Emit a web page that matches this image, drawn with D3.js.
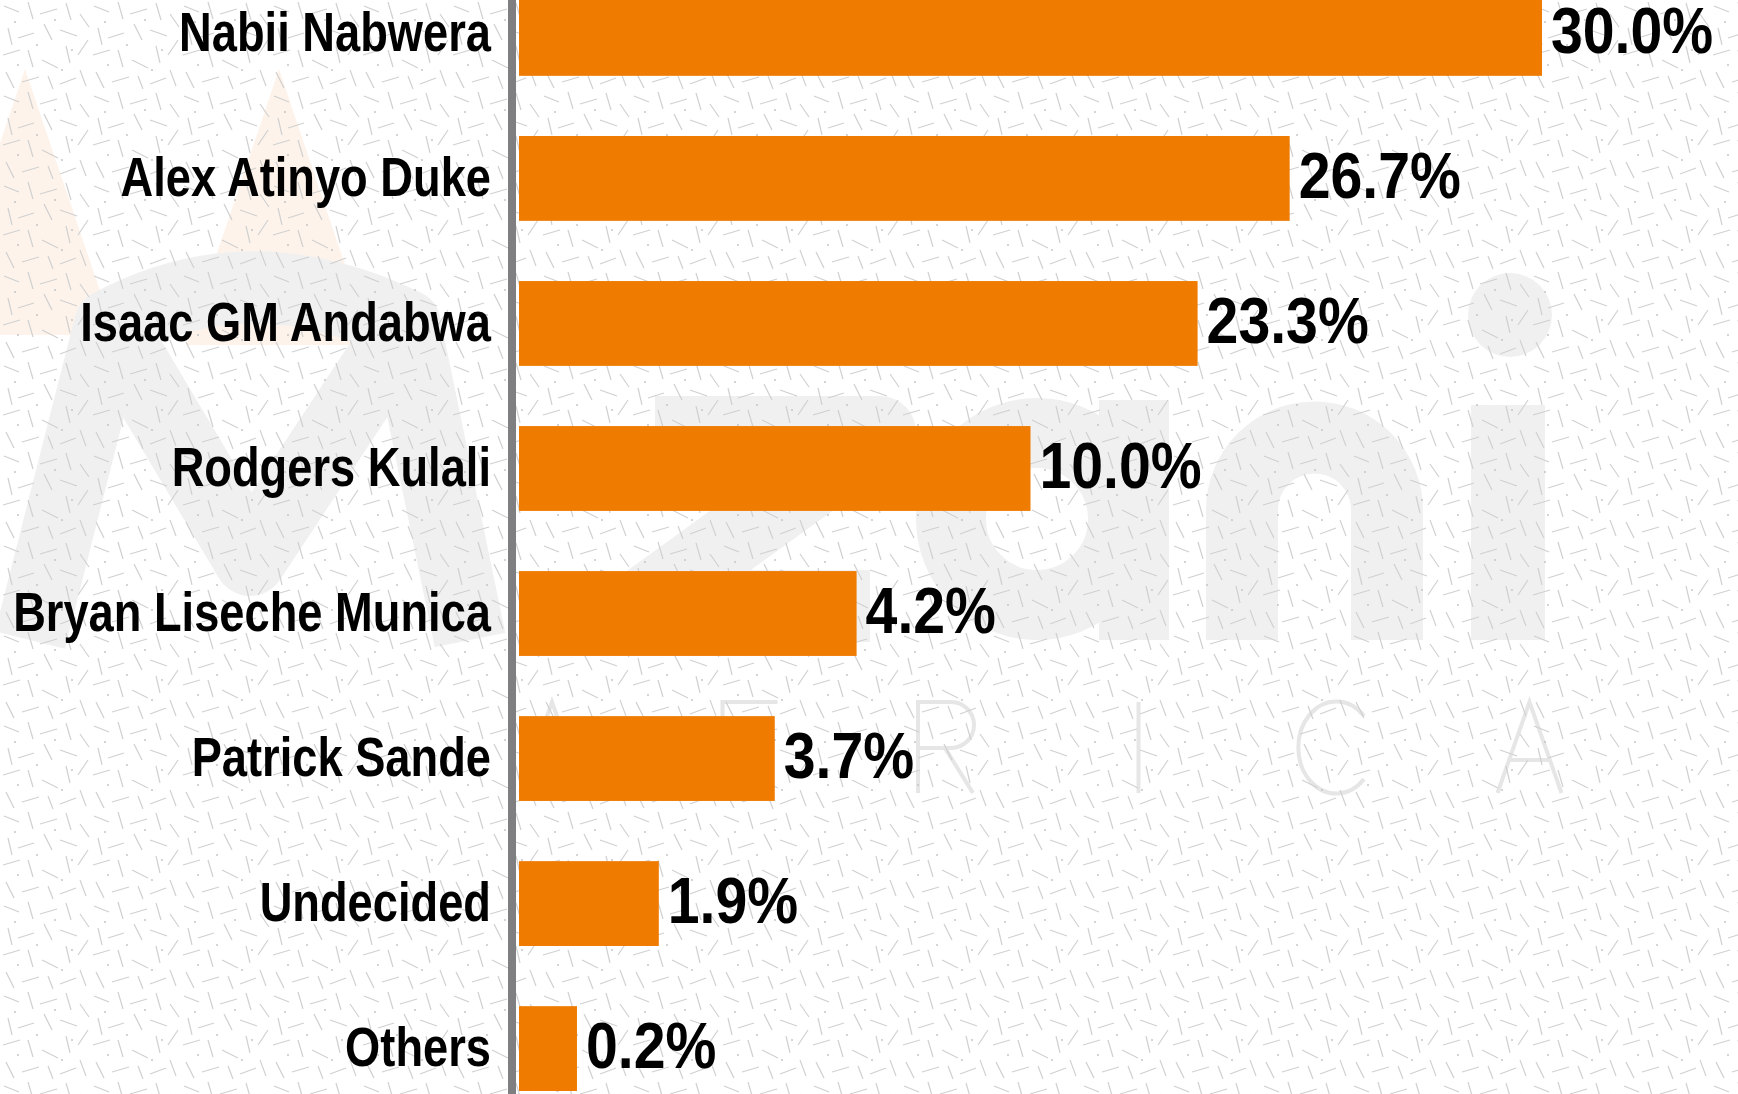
<!DOCTYPE html>
<html>
<head>
<meta charset="utf-8">
<script src="https://cdn.jsdelivr.net/npm/d3@7"></script>
<style>
  html, body { margin: 0; padding: 0; background: #ffffff; }
  svg { display: block; }
</style>
</head>
<body>
<div id="chart"></div>
<script>
'use strict';

// categories, top to bottom
const candidates = [
    'Nabii Nabwera',
    'Alex Atinyo Duke',
    'Isaac GM Andabwa',
    'Rodgers Kulali',
    'Bryan Liseche Munica',
    'Patrick Sande',
    'Undecided',
    'Others'
];

// printed share labels (%)
const shares = [30.0, 26.7, 23.3, 10.0, 4.2, 3.7, 1.9, 0.2];

// bar lengths as drawn in the original, in the same % units
// (the source graphic does not draw its bars to scale with the labels)
const barLengths = [30.0, 22.6, 19.9, 15.0, 9.9, 7.5, 4.1, 1.7];

const width = 1738;
const height = 1094;

// no condensed face installed, so squeeze the bold sans horizontally
const labelFont = '"Liberation Sans", Arial, sans-serif';
const nameSqueeze = 0.823;
const valueSqueeze = 0.88;

const svg = d3.select('#chart').append('svg')
    .attr('width', width)
    .attr('height', height);

// ---- background: white, faint logo, scattered grey dashes ----
const defs = svg.append('defs');
const tile = defs.append('pattern')
    .attr('id', 'dashes')
    .attr('patternUnits', 'userSpaceOnUse')
    .attr('width', 90)
    .attr('height', 90);

const tileLines = [
    [4, 6, 19, 12], [28, 2, 33, 19], [40, 14, 57, 9], [66, 3, 71, 20],
    [80, 14, 89, 27], [8, 28, 12, 45], [18, 38, 34, 33], [44, 24, 52, 40],
    [60, 30, 77, 36], [3, 55, 20, 50], [28, 50, 33, 67], [42, 60, 58, 68],
    [66, 46, 70, 63], [78, 55, 88, 40], [6, 72, 14, 88], [22, 82, 39, 77],
    [48, 76, 53, 89], [60, 84, 76, 78], [80, 70, 86, 86]
];
tile.selectAll('line').data(tileLines).enter().append('line')
    .attr('x1', d => d[0]).attr('y1', d => d[1])
    .attr('x2', d => d[2]).attr('y2', d => d[3])
    .attr('stroke', '#d0d0d0')
    .attr('stroke-width', 1.2);
tile.selectAll('circle').data([[15, 22], [55, 20], [37, 45], [72, 50], [18, 65], [62, 70]]).enter()
    .append('circle')
    .attr('cx', d => d[0]).attr('cy', d => d[1])
    .attr('r', 1)
    .attr('fill', '#c6c6c6');

svg.append('rect')
    .attr('width', width).attr('height', height)
    .attr('fill', '#ffffff');

// logo watermark, drawn as shapes
const logo = svg.append('g').attr('class', 'watermark');
logo.append('polygon')
    .attr('points', '25,69 115,335 -65,335')
    .attr('fill', '#fdf3eb');
logo.append('polygon')
    .attr('points', '279,69 372,345 186,345')
    .attr('fill', '#fdf3eb');

const grey = '#f0f0f0';
const thick = [
    'M30,640 L110,325 Q250,250 405,325 L470,640',   // M outline
    'M110,325 L250,560 L405,325',                   // M inner V
    'M655,432 H880 L640,606 H870',                  // z
    'M1242,640 V510 A72.5,72.5 0 0 1 1387,510 V640' // n
];
logo.selectAll('.stroke').data(thick).enter().append('path')
    .attr('class', 'stroke')
    .attr('d', d => d)
    .attr('fill', 'none')
    .attr('stroke', grey)
    .attr('stroke-width', 72)
    .attr('stroke-linejoin', 'round');
// a: bowl + stem
logo.append('circle')
    .attr('cx', 1037).attr('cy', 519).attr('r', 86)
    .attr('fill', 'none').attr('stroke', grey).attr('stroke-width', 70);
logo.append('rect')
    .attr('x', 1099).attr('y', 400).attr('width', 70).attr('height', 240)
    .attr('fill', grey);
// i: stem + dot
logo.append('rect')
    .attr('x', 1471).attr('y', 405).attr('width', 74).attr('height', 235)
    .attr('fill', grey);
logo.append('circle')
    .attr('cx', 1510).attr('cy', 315).attr('r', 42)
    .attr('fill', grey);

// thin spaced "AFRICA" line under the word mark
const africaGlyphs = [
    'M-32,91 L0,0 L32,91 M-20,58 L20,58',
    'M-25,91 V0 H30 M-25,44 H22',
    'M-25,91 V0 H8 A23,23 0 0 1 8,46 H-25 M2,46 L30,91',
    'M0,0 V91',
    'M30,14 A38,46 0 1 0 30,77',
    'M-32,91 L0,0 L32,91 M-20,58 L20,58'
];
logo.selectAll('.africa').data(africaGlyphs).enter().append('path')
    .attr('class', 'africa')
    .attr('transform', (d, i) => 'translate(' + (552 + i * 195.5) + ',702)')
    .attr('d', d => d)
    .attr('fill', 'none')
    .attr('stroke', '#e6e6e6')
    .attr('stroke-width', 4);

svg.append('rect')
    .attr('width', width).attr('height', height)
    .attr('fill', 'url(#dashes)');

// ---- scales ----
const x = d3.scaleLinear()
    .domain([0, 30])
    .range([519, 1542]);

const y = d3.scaleBand()
    .domain(candidates)
    .range([-9, 1091])
    .paddingInner(0.415)
    .paddingOuter(0);

const rows = candidates.map((name, i) => ({name: name, share: shares[i], length: barLengths[i]}));

// ---- bars ----
svg.append('g').selectAll('.bar').data(rows).enter()
    .append('rect')
    .attr('class', 'bar')
    .attr('x', x(0))
    .attr('y', d => y(d.name))
    .attr('width', d => x(d.length) - x(0))
    .attr('height', y.bandwidth())
    .attr('fill', '#ef7b00');

// ---- category axis ----
const yAxis = d3.axisLeft(y).tickSize(0).tickPadding(0);
const axisG = svg.append('g')
    .attr('transform', 'translate(491,0)')
    .call(yAxis);
axisG.select('.domain').remove();
axisG.selectAll('text')
    .attr('x', 0)
    .attr('dy', '0.32em')
    .attr('transform', 'scale(' + nameSqueeze + ',1)')
    .attr('fill', '#000')
    .style('font-family', labelFont)
    .style('font-weight', 'bold')
    .style('font-size', '55px');

svg.append('line')
    .attr('x1', 512).attr('x2', 512)
    .attr('y1', 0).attr('y2', height)
    .attr('stroke', '#7f7f81')
    .attr('stroke-width', 8);

// ---- value labels ----
svg.append('g').selectAll('.value').data(rows).enter()
    .append('text')
    .attr('class', 'value')
    .attr('transform', d => 'translate(' + (x(d.length) + 9) + ',' +
        (y(d.name) + y.bandwidth() / 2) + ') scale(' + valueSqueeze + ',1)')
    .attr('dy', '0.3em')
    .attr('fill', '#000')
    .style('font-family', labelFont)
    .style('font-weight', 'bold')
    .style('font-size', '65px')
    .text(d => d3.format('.1f')(d.share) + '%');
</script>
</body>
</html>
